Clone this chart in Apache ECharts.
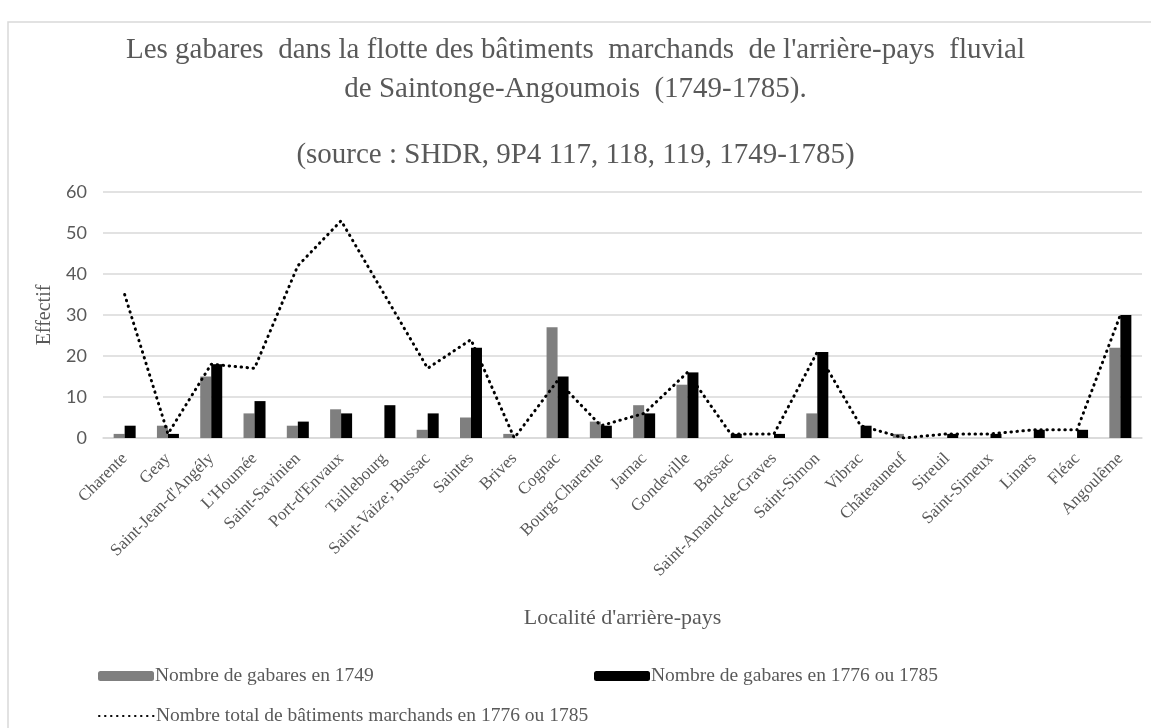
<!DOCTYPE html>
<html>
<head>
<meta charset="utf-8">
<script src="https://cdn.jsdelivr.net/npm/echarts@6/dist/echarts.min.js"></script>
<style>
  html, body { margin: 0; padding: 0; background: #fff; }
  #main { width: 1151px; height: 728px; }
</style>
</head>
<body>
<div id="main"></div>
<script>
// localités
var localites = ['Charente', 'Geay', "Saint-Jean-d'Angély", "L'Houmée", 'Saint-Savinien', "Port-d'Envaux",
  'Taillebourg', 'Saint-Vaize; Bussac', 'Saintes', 'Brives', 'Cognac', 'Bourg-Charente', 'Jarnac',
  'Gondeville', 'Bassac', 'Saint-Amand-de-Graves', 'Saint-Simon', 'Vibrac', 'Châteauneuf', 'Sireuil',
  'Saint-Simeux', 'Linars', 'Fléac', 'Angoulême'];

// séries
var gabares1749 = [1, 3, 15, 6, 3, 7, 0, 2, 5, 1, 27, 4, 8, 13, 0, 0, 6, 0, 1, 0, 0, 0, 0, 22];
var gabares1776 = [3, 1, 18, 9, 4, 6, 8, 6, 22, 0, 15, 3, 6, 16, 1, 1, 21, 3, 0, 1, 1, 2, 2, 30];
var totalBatiments = [35, 1, 18, 17, 42, 53, 35, 17, 24, 0, 14, 3, 6, 16, 1, 1, 21, 3, 0, 1, 1, 2, 2, 30];

var nom1 = 'Nombre de gabares en 1749';
var nom2 = 'Nombre de gabares en 1776 ou 1785';
var nom3 = 'Nombre total de bâtiments marchands en 1776 ou 1785';

var police = "'Liberation Serif', 'Times New Roman', serif";
var gris = '#595959';

var chart = echarts.init(document.getElementById('main'));

var option = {
  backgroundColor: '#fff',
  textStyle: { fontFamily: police },
  graphic: [{
    type: 'rect',
    shape: { x: 8, y: 22, width: 1160, height: 730 },
    style: { fill: 'none', stroke: '#d9d9d9', lineWidth: 1.5 }
  }],
  title: [{
    text: "Les gabares  dans la flotte des bâtiments  marchands  de l'arrière-pays  fluvial\nde Saintonge-Angoumois  (1749-1785).",
    left: 'center',
    top: 26,
    textStyle: { fontFamily: police, fontSize: 29, fontWeight: 'normal', color: gris, lineHeight: 39 }
  }, {
    text: '(source : SHDR, 9P4 117, 118, 119, 1749-1785)',
    left: 'center',
    top: 136,
    textStyle: { fontFamily: police, fontSize: 29, fontWeight: 'normal', color: gris }
  }],
  legend: [{
    data: [nom1],
    left: 93, top: 661,
    itemWidth: 56, itemHeight: 10,
    textStyle: { fontFamily: police, fontSize: 19.5, color: gris, padding: [0, 0, 0, -4] }
  }, {
    data: [nom2],
    left: 589, top: 661,
    itemWidth: 56, itemHeight: 10,
    textStyle: { fontFamily: police, fontSize: 19.5, color: gris, padding: [0, 0, 0, -4] }
  }, {
    data: [nom3],
    left: 93, top: 701,
    itemWidth: 56, itemHeight: 10,
    itemStyle: { opacity: 0 },
    textStyle: { fontFamily: police, fontSize: 19.5, color: gris, padding: [0, 0, 0, -4] }
  }],
  grid: { left: 103, right: 9, top: 192, bottom: 290 },
  xAxis: {
    type: 'category',
    data: localites,
    name: "Localité d'arrière-pays",
    nameLocation: 'middle',
    nameGap: 169,
    nameTextStyle: { fontFamily: police, fontSize: 22, color: gris },
    axisLine: { lineStyle: { color: '#d9d9d9', width: 1.5 } },
    axisTick: { show: false },
    axisLabel: { rotate: 45, fontFamily: police, fontSize: 17, color: gris, margin: 18, interval: 0 }
  },
  yAxis: {
    type: 'value',
    min: 0, max: 60, interval: 10,
    name: 'Effectif',
    nameLocation: 'middle',
    nameGap: 48,
    nameTextStyle: { fontFamily: police, fontSize: 20, color: gris },
    axisLine: { show: false },
    axisTick: { show: false },
    axisLabel: { fontFamily: "Lato, 'Open Sans', sans-serif", fontSize: 18, color: gris, margin: 16 },
    splitLine: { lineStyle: { color: '#d9d9d9', width: 1.5 } }
  },
  series: [{
    name: nom1,
    type: 'bar',
    data: gabares1749,
    barWidth: 11,
    barGap: '0%',
    itemStyle: { color: '#7f7f7f' }
  }, {
    name: nom2,
    type: 'bar',
    data: gabares1776,
    barWidth: 11,
    barGap: '0%',
    itemStyle: { color: '#000000' }
  }, {
    name: nom3,
    type: 'line',
    data: totalBatiments,
    symbol: 'none',
    smooth: false,
    lineStyle: { color: '#000', width: 3, type: [0.5, 5.5], cap: 'round' },
    itemStyle: { color: '#000' }
  }]
};

chart.setOption(option);
</script>
</body>
</html>
